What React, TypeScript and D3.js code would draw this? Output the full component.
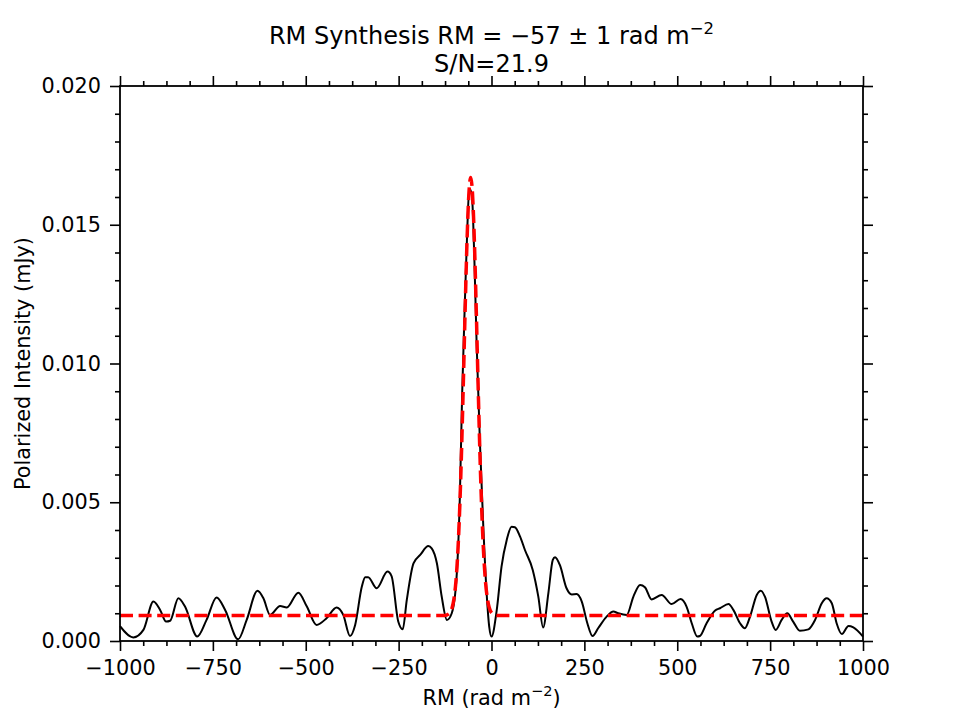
import React, { useRef, useEffect } from 'react';
import * as d3 from 'd3';

// Faraday spectrum (black line)
const rmValues = [
  -1000, -964, -937, -910, -892, -876, -865, -843, -825, -792, -767, -740, -717, -682, -659,
  -630, -614, -596, -569, -551, -520, -497, -471, -444, -417, -399, -381, -367, -349, -340,
  -332, -309, -280, -269, -251, -239, -228, -210, -192, -170, -161, -147, -134, -120, -107,
  -94, -85, -79, -71, -65, -60, -53, -46, -40, -31, -22, -13, -6, 0, 14,
  27, 41, 54, 63, 77, 90, 111, 126, 139, 153, 165, 171, 184, 202, 216,
  229, 243, 258, 272, 287, 310, 328, 341, 364, 382, 400, 413, 431, 458, 485,
  509, 525, 539, 554, 561, 579, 602, 615, 638, 651, 669, 682, 696, 714, 725,
  736, 754, 765, 781, 796, 812, 830, 853, 871, 889, 902, 916, 929, 943, 961,
  974, 1000,
];
const piValues = [
  0.00054, 0.00013, 0.0004, 0.00142, 0.00112, 0.0007, 0.00073, 0.00154, 0.00124, 0.00016, 0.00076, 0.00157, 0.00112, 0.00006, 0.00076,
  0.00181, 0.00154, 0.00094, 0.00126, 0.00121, 0.00174, 0.00124, 0.00058, 0.00082, 0.00121, 0.00094, 0.00018, 0.00058, 0.00196, 0.0023,
  0.0023, 0.0019, 0.0025, 0.00234, 0.0007, 0.00042, 0.00148, 0.0028, 0.0031, 0.00342, 0.00334, 0.0028, 0.0016, 0.00076, 0.001,
  0.0023, 0.0053, 0.0089, 0.0125, 0.0149, 0.0163, 0.0161, 0.0137, 0.0107, 0.0071, 0.0041, 0.0017, 0.0005, 0.00016, 0.0011,
  0.00268, 0.00364, 0.00412, 0.0041, 0.00376, 0.00328, 0.00256, 0.0016, 0.00049, 0.00172, 0.00292, 0.00302, 0.00274, 0.0019, 0.00168,
  0.00169, 0.00142, 0.00064, 0.00018, 0.00046, 0.00088, 0.00106, 0.001, 0.00094, 0.0016, 0.00202, 0.00194, 0.0015, 0.00166, 0.00133,
  0.00151, 0.00124, 0.00064, 0.00016, 0.00018, 0.00064, 0.0011, 0.00118, 0.00133, 0.00112, 0.00064, 0.00046, 0.00088, 0.00166, 0.00181,
  0.0016, 0.0007, 0.0004, 0.00076, 0.001, 0.0007, 0.00037, 0.00042, 0.00076, 0.00136, 0.00154, 0.00136, 0.00064, 0.00025, 0.00054,
  0.00049, 0.00016,
];

// fitted gaussian + baseline (red dashed)
const fitRm = [
  -1000, -126, -116, -106, -101, -96, -91, -86, -81, -76, -71, -66, -61, -56,
  -51, -46, -41, -36, -31, -26, -21, -16, -11, -6, 4, 14, 1000,
];
const fitPi = [
  0.00092, 0.00092, 0.00097, 0.0012, 0.00152, 0.00211, 0.00311, 0.00462, 0.00668, 0.0092, 0.01191, 0.01437, 0.01609, 0.0167,
  0.01609, 0.01437, 0.01191, 0.0092, 0.00668, 0.00462, 0.00311, 0.00211, 0.00152, 0.0012, 0.00097, 0.00092, 0.00092,
];

const xTicks = [-1000, -750, -500, -250, 0, 250, 500, 750, 1000];
const yTicks = [0, 0.005, 0.01, 0.015, 0.02];

const FONT = 'DejaVu Sans, sans-serif';
const TICK_FONT = 20.8;

const App = () => {
  const ref = useRef(null);
  const margin = { top: 86, left: 120 };
  const width = 743, height = 555;

  useEffect(() => {
    d3.select(ref.current).selectAll('*').remove();
    const g = d3.select(ref.current);

    const x = d3.scaleLinear().domain([-1000, 1000]).range([0, width]);
    const y = d3.scaleLinear().domain([0, 0.02]).range([height, 0]);

    const xMinor = d3.range(-1000, 1000.1, 62.5).filter(v => !xTicks.includes(v));
    const yMinor = d3.range(0, 0.0201, 0.001).filter(v => Math.abs(v / 0.005 - Math.round(v / 0.005)) > 1e-6);

    const styleAxis = (sel) => {
      sel.select('.domain').remove();
      sel.selectAll('line').attr('stroke', '#000').attr('stroke-width', 1.6);
      sel.selectAll('text').attr('font-family', FONT).attr('font-size', TICK_FONT).attr('fill', '#000');
    };

    // bottom
    g.append('g').attr('transform', `translate(0,${height})`)
      .call(d3.axisBottom(x).tickValues(xTicks).tickSize(10).tickPadding(9).tickFormat(d => d3.format('d')(d).replace('-', '\u2212')))
      .call(styleAxis);
    g.append('g').attr('transform', `translate(0,${height})`)
      .call(d3.axisBottom(x).tickValues(xMinor).tickSize(5).tickFormat(() => ''))
      .call(styleAxis);
    // top
    g.append('g')
      .call(d3.axisTop(x).tickValues(xTicks).tickSize(10).tickFormat(() => ''))
      .call(styleAxis);
    g.append('g')
      .call(d3.axisTop(x).tickValues(xMinor).tickSize(5).tickFormat(() => ''))
      .call(styleAxis);
    // left
    g.append('g')
      .call(d3.axisLeft(y).tickValues(yTicks).tickSize(10).tickPadding(9).tickFormat(d3.format('.3f')))
      .call(styleAxis);
    g.append('g')
      .call(d3.axisLeft(y).tickValues(yMinor).tickSize(5).tickFormat(() => ''))
      .call(styleAxis);
    // right
    g.append('g').attr('transform', `translate(${width},0)`)
      .call(d3.axisRight(y).tickValues(yTicks).tickSize(10).tickFormat(() => ''))
      .call(styleAxis);
    g.append('g').attr('transform', `translate(${width},0)`)
      .call(d3.axisRight(y).tickValues(yMinor).tickSize(5).tickFormat(() => ''))
      .call(styleAxis);

    const line = d3.line()
      .x(d => x(d[0]))
      .y(d => y(d[1]))
      .curve(d3.curveMonotoneX);

    const specData = rmValues.map((v, i) => [v, piValues[i]]);
    const fitData = fitRm.map((v, i) => [v, fitPi[i]]);

    g.append('path')
      .datum(specData)
      .attr('d', line)
      .attr('fill', 'none')
      .attr('stroke', '#000')
      .attr('stroke-width', 2);

    g.append('path')
      .datum(fitData)
      .attr('d', line)
      .attr('fill', 'none')
      .attr('stroke', '#ff0000')
      .attr('stroke-width', 3.5)
      .attr('stroke-dasharray', '13,5.6');

    // frame
    g.append('rect')
      .attr('width', width).attr('height', height)
      .attr('fill', 'none').attr('stroke', '#000').attr('stroke-width', 1.8);

    // axis labels
    const xl = g.append('text')
      .attr('x', width / 2).attr('y', height + 64)
      .attr('text-anchor', 'middle')
      .attr('font-family', FONT).attr('font-size', 20.8);
    xl.append('tspan').text('RM (rad m');
    xl.append('tspan').attr('dy', -9).attr('font-size', 14.6).text('\u22122');
    xl.append('tspan').attr('dy', 9).text(')');

    g.append('text')
      .attr('transform', `translate(${-90},${height / 2}) rotate(-90)`)
      .attr('text-anchor', 'middle')
      .attr('font-family', FONT).attr('font-size', 20.8)
      .text('Polarized Intensity (mJy)');

    // title, two lines
    const t = g.append('text')
      .attr('x', width / 2).attr('y', -42)
      .attr('text-anchor', 'middle')
      .attr('font-family', FONT).attr('font-size', 24);
    t.append('tspan').text('RM Synthesis RM = \u221257 \u00b1 1 rad m');
    t.append('tspan').attr('dy', -10).attr('font-size', 16.5).text('\u22122');
    g.append('text')
      .attr('x', width / 2).attr('y', -14)
      .attr('text-anchor', 'middle')
      .attr('font-family', FONT).attr('font-size', 24)
      .text('S/N=21.9');
  }, []);

  return (
    <div>
      <svg width={960} height={720} style={{ position: 'absolute', left: 0, top: 0, background: '#fff' }}>
        <g ref={ref} transform={`translate(${margin.left}, ${margin.top})`}></g>
      </svg>
    </div>
  );
};

export default App;
